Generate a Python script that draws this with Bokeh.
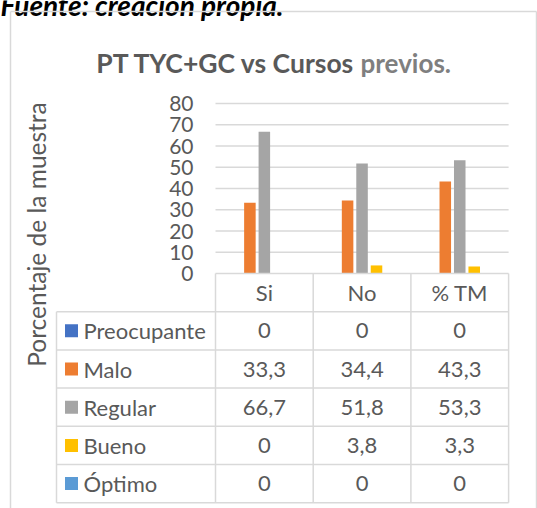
import math
from bokeh.plotting import figure
from bokeh.models import Range1d, FixedTicker, ColumnDataSource
from bokeh.core.properties import value
from bokeh.embed import file_html
from bokeh.resources import INLINE

# ---------------- data ----------------
categories = ["Si", "No", "% TM"]
series_names = ["Preocupante", "Malo", "Regular", "Bueno", "Óptimo"]
preocupante = [0, 0, 0]
malo = [33.3, 34.4, 43.3]
regular = [66.7, 51.8, 53.3]
bueno = [0, 3.8, 3.3]
optimo = [0, 0, 0]
y_ticks = [0, 10, 20, 30, 40, 50, 60, 70, 80]
title_main = "PT TYC+GC vs Cursos"
title_tail = "previos."
y_label = "Porcentaje de la muestra"
source_note = "Fuente: creación propia."

series_values = [preocupante, malo, regular, bueno, optimo]
colors = ["#4472C4", "#ED7D31", "#A5A5A5", "#FFC000", "#5B9BD5"]

# ---------------- layout helpers (page pixels -> data units) ----------------
OFF = 0
X0_PX, COL_PX = 215.0, 97.7        # left of first category column, column width
Y0_PX, PX_PER_UNIT = 273.0, 2.125  # baseline 0 and pixels per percentage unit
ROW_PX = 38.2


def xd(px):
    return (px - X0_PX) / COL_PX


def yd(py):
    return (Y0_PX - py) / PX_PER_UNIT


W, H = 537, 508
p = figure(width=W, height=H, output_backend="svg", toolbar_location=None,
           x_range=Range1d(xd(OFF), xd(OFF + W)), y_range=Range1d(yd(OFF + H), yd(OFF)),
           x_axis_location=None, min_border=0)
p.outline_line_color = None
p.grid.visible = False
p.background_fill_color = "white"
p.border_fill_color = "white"

FONT = value("Lato")
TXT = "#595959"
LINE = "#d9d9d9"
FS = value("22px")

# source note (cut off at the top of the page, as in the reference)
p.text(x=[xd(0)], y=[yd(4)], text=[source_note], text_font=FONT, text_font_style="bold italic",
       text_font_size=value("28px"), text_color="#000000",
       text_align=value("left"), text_baseline=value("alphabetic"))

# chart frame (left, top and right edges)
p.segment(x0=[xd(10), xd(10), xd(536)], y0=[yd(11), yd(11), yd(11)],
          x1=[xd(10), xd(536), xd(536)], y1=[yd(520), yd(11), yd(520)],
          line_color=LINE, line_width=1.5)

# y axis
ax = p.yaxis[0]
ax.fixed_location = 0
ax.ticker = FixedTicker(ticks=y_ticks)
ax.axis_line_color = None
ax.major_tick_line_color = None
ax.minor_tick_line_color = None
ax.major_tick_out = 0
ax.major_tick_in = 0
ax.major_label_standoff = 22
ax.major_label_text_font = "Lato"
ax.major_label_text_font_size = "21px"
ax.major_label_text_color = TXT

# gridlines
ncat = len(categories)
grid_vals = [t for t in y_ticks if t > 0]
p.segment(x0=[0] * len(grid_vals), x1=[ncat] * len(grid_vals), y0=grid_vals, y1=grid_vals,
          line_color=LINE, line_width=1.5)

# bars
step, bw = 0.148, 0.118
for k, (name, vals, col) in enumerate(zip(series_names, series_values, colors)):
    xs = [i + 0.5 + (k - 2) * step for i in range(ncat)]
    src = ColumnDataSource(dict(x=xs, top=vals))
    p.vbar(x="x", top="top", bottom=0, width=bw, source=src, fill_color=col, line_color=None)

# ---------------- data table ----------------
row_h = ROW_PX / PX_PER_UNIT
nrows = len(series_names)
leg_left = xd(56)
row_edges = [-(j + 1) * row_h for j in range(nrows + 1)]  # header bottom .. table bottom
p.segment(x0=[0], x1=[ncat], y0=[0], y1=[0], line_color=LINE, line_width=1.5)
p.segment(x0=[leg_left] * len(row_edges), x1=[ncat] * len(row_edges), y0=row_edges, y1=row_edges,
          line_color=LINE, line_width=1.5)
p.segment(x0=[leg_left], x1=[leg_left], y0=[row_edges[0]], y1=[row_edges[-1]],
          line_color=LINE, line_width=1.5)
p.segment(x0=list(range(ncat + 1)), x1=list(range(ncat + 1)), y0=[0] * (ncat + 1),
          y1=[row_edges[-1]] * (ncat + 1), line_color=LINE, line_width=1.5)

# header
p.text(x=[i + 0.5 for i in range(ncat)], y=[-row_h / 2] * ncat, text=categories,
       text_font=FONT, text_font_size=FS, text_color=TXT,
       text_align=value("center"), text_baseline=value("middle"))

row_centers = [-(j + 1.5) * row_h for j in range(nrows)]
p.scatter(x=[xd(71)] * nrows, y=row_centers, marker="square", size=13,
          fill_color=colors, line_color=None)
p.text(x=[xd(83)] * nrows, y=row_centers, text=series_names,
       text_font=FONT, text_font_size=FS, text_color=TXT,
       text_align=value("left"), text_baseline=value("middle"))


def fmt(v):
    return "0" if v == 0 else f"{v:.1f}".replace(".", ",")


cx, cy, ct = [], [], []
for j, vals in enumerate(series_values):
    for i, v in enumerate(vals):
        cx.append(i + 0.5)
        cy.append(row_centers[j])
        ct.append(fmt(v))
p.text(x=cx, y=cy, text=ct, text_font=FONT, text_font_size=FS, text_color=TXT,
       text_align=value("center"), text_baseline=value("middle"))

# title
p.text(x=[xd(355)], y=[yd(62)], text=[title_main], text_font=FONT, text_font_style="bold",
       text_font_size=value("26.5px"), text_color="#595959",
       text_align=value("right"), text_baseline=value("middle"))
p.text(x=[xd(360)], y=[yd(62)], text=[title_tail], text_font=FONT, text_font_style="bold",
       text_font_size=value("26px"), text_color="#7F7F7F",
       text_align=value("left"), text_baseline=value("middle"))

# y axis label
p.text(x=[xd(36)], y=[yd(234)], text=[y_label], angle=math.pi / 2, text_font=FONT,
       text_font_size=value("24.5px"), text_color=TXT,
       text_align=value("center"), text_baseline=value("middle"))

open("out.html", "w").write(file_html(p, INLINE))
